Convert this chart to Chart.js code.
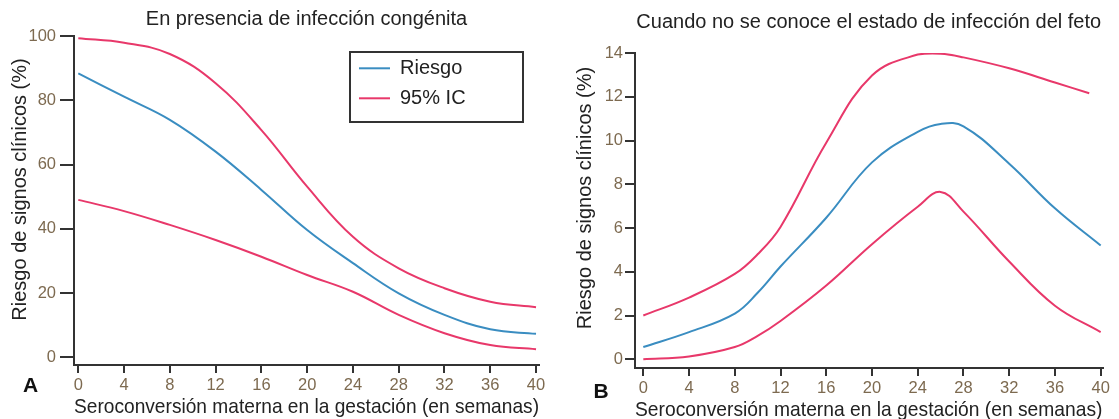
<!DOCTYPE html>
<html>
<head>
<meta charset="utf-8">
<script src="https://cdn.jsdelivr.net/npm/chart.js@4.4.1/dist/chart.umd.min.js"></script>
<style>
html, body { margin: 0; padding: 0; background: #ffffff; }
#wrap { position: relative; width: 1119px; height: 419px; overflow: hidden; background: #fff; }
#cA { position: absolute; left: 0; top: 0; }
#cB { position: absolute; left: 560px; top: 0; }
</style>
</head>
<body>
<div id="wrap">
  <canvas id="cA" width="560" height="440"></canvas>
  <canvas id="cB" width="559" height="440"></canvas>
</div>
<script>
// ---------- data ----------
const weekTicks = [0, 4, 8, 12, 16, 20, 24, 28, 32, 36, 40];

// Panel A: En presencia de infección congénita
const weeksA  = [0, 4, 8, 12, 16, 20, 24, 28, 32, 36, 40];
const riesgoA = [88.4, 81.1, 73.9, 64.0, 52.1, 39.6, 29.3, 19.9, 13.2, 8.7, 7.3];
const icSupA  = [99.3, 97.9, 94.4, 85.3, 70.7, 53.1, 37.5, 27.7, 21.5, 17.3, 15.6];
const icInfA  = [49.0, 45.5, 41.2, 36.5, 31.3, 25.6, 20.4, 13.2, 7.5, 3.8, 2.5];
const yTicksA = [0, 20, 40, 60, 80, 100];

// Panel B: Cuando no se conoce el estado de infección del feto
const weeksB    = [0, 4, 8, 10, 12, 16, 20, 24, 26, 28, 32, 36, 40];
const riesgoB   = [0.56, 1.24, 2.09, 3.04, 4.24, 6.47, 9.0, 10.4, 10.76, 10.65, 8.94, 6.9, 5.2];
const icInfB    = [0.0, 0.13, 0.56, 1.07, 1.75, 3.37, 5.26, 6.97, 7.65, 6.75, 4.47, 2.45, 1.24];
const weeksSupB = [0, 4, 8, 10, 12, 16, 20, 24, 26, 28, 32, 36, 39];
const icSupB    = [2.0, 2.82, 3.9, 4.8, 6.05, 9.9, 12.97, 13.93, 13.97, 13.8, 13.3, 12.65, 12.16];
const yTicksB   = [0, 2, 4, 6, 8, 10, 12, 14];

const titleA = 'En presencia de infección congénita';
const titleB = 'Cuando no se conoce el estado de infección del feto';
const xTitle = 'Seroconversión materna en la gestación (en semanas)';
const yTitle = 'Riesgo de signos clínicos (%)';
const labelRiesgo = 'Riesgo';
const labelIC = '95% IC';

// ---------- styles ----------
const FONT = "'Liberation Sans', Arial, Helvetica, sans-serif";
const BLUE = '#3a8dc1';
const PINK = '#e8386a';
const AXIS = '#333333';
const TICKCOL = '#7d6a50';
const TEXT = '#222222';

const pts = (xs, ys) => xs.map((x, i) => ({ x: x, y: ys[i] }));

function lineDs(label, xs, ys, color) {
  return {
    label: label,
    data: pts(xs, ys),
    borderColor: color,
    backgroundColor: color,
    borderWidth: 2,
    pointRadius: 0,
    fill: false,
    tension: 0.4,
    cubicInterpolationMode: 'default'
  };
}

function shiftTitle(dy) {
  return function (scale) {
    if (scale._titleShifted) return;
    scale._titleShifted = true;
    const orig = scale.drawTitle.bind(scale);
    scale.drawTitle = function () {
      const c = this.ctx;
      c.save();
      c.translate(0, dy);
      orig();
      c.restore();
    };
  };
}

// legend box plugin (reads labels and colours from the datasets)
const legendBox = {
  id: 'legendBox',
  afterDraw(chart, args, o) {
    if (!o || !o.display || !o.items) return;
    const ctx = chart.ctx;
    ctx.save();
    ctx.strokeStyle = AXIS;
    ctx.lineWidth = 2;
    ctx.strokeRect(o.x, o.y, o.w, o.h);
    ctx.font = o.fontSize + 'px ' + FONT;
    ctx.textBaseline = 'middle';
    ctx.textAlign = 'left';
    o.items.forEach((idx, i) => {
      const ds = chart.data.datasets[idx];
      const yy = o.y + o.first + i * o.gap;
      ctx.strokeStyle = ds.borderColor;
      ctx.lineWidth = ds.borderWidth;
      ctx.beginPath();
      ctx.moveTo(o.x + 9, yy);
      ctx.lineTo(o.x + 40, yy);
      ctx.stroke();
      ctx.fillStyle = TEXT;
      ctx.fillText(ds.label, o.x + 50, yy);
    });
    ctx.restore();
  }
};

// panel letter plugin
const panelLetter = {
  id: 'panelLetter',
  afterDraw(chart, args, o) {
    if (!o || !o.text) return;
    const ctx = chart.ctx;
    ctx.save();
    ctx.font = 'bold 21px ' + FONT;
    ctx.fillStyle = '#111';
    ctx.textAlign = 'center';
    ctx.textBaseline = 'alphabetic';
    ctx.fillText(o.text, o.x, o.y);
    ctx.restore();
  }
};

function makeOptions(cfg) {
  return {
    responsive: false,
    animation: false,
    devicePixelRatio: 1,
    layout: { padding: { left: 0, right: cfg.padRight, top: 0, bottom: 0 } },
    plugins: {
      legend: { display: false },
      tooltip: { enabled: false },
      title: {
        display: true,
        text: cfg.title,
        fullSize: false,
        color: TEXT,
        font: { family: FONT, size: 20, weight: 'normal', lineHeight: 1.2 },
        padding: { top: cfg.titleTop, bottom: cfg.titleBottom }
      },
      legendBox: cfg.legend,
      panelLetter: cfg.letter
    },
    scales: {
      x: {
        type: 'linear',
        min: cfg.xMin,
        max: cfg.xMax,
        afterBuildTicks: s => { s.ticks = weekTicks.map(v => ({ value: v })); },
        afterFit: s => { s.height = cfg.xHeight; },
        grid: { drawOnChartArea: false, drawTicks: true, tickLength: 8, color: AXIS, lineWidth: 2 },
        border: { display: true, color: AXIS, width: 2 },
        ticks: { color: TICKCOL, font: { family: FONT, size: 16.5 }, padding: 3, maxRotation: 0, autoSkip: false },
        title: {
          display: true, text: xTitle, color: TEXT,
          font: { family: FONT, size: 21, lineHeight: 1.2 },
          padding: { top: 0, bottom: cfg.xTitleBottom }
        }
      },
      y: {
        type: 'linear',
        min: cfg.yMin,
        max: cfg.yMax,
        afterBuildTicks: s => { s.ticks = cfg.yTicks.map(v => ({ value: v })); },
        afterFit: s => { s.width = cfg.yWidth; },
        afterUpdate: shiftTitle(cfg.yTitleShift),
        grid: { drawOnChartArea: false, drawTicks: true, tickLength: cfg.yTickLen, color: AXIS, lineWidth: 2 },
        border: { display: true, color: AXIS, width: 2 },
        ticks: { color: TICKCOL, font: { family: FONT, size: 16.5 }, padding: cfg.yTickPad, autoSkip: false },
        title: {
          display: true, text: yTitle, color: TEXT,
          font: { family: FONT, size: 20, lineHeight: 1.2 },
          padding: { top: cfg.yTitleTop, bottom: 0 }
        }
      }
    }
  };
}

new Chart(document.getElementById('cA'), {
  type: 'line',
  data: {
    datasets: [
      lineDs(labelRiesgo, weeksA, riesgoA, BLUE),
      lineDs(labelIC, weeksA, icSupA, PINK),
      lineDs(labelIC, weeksA, icInfA, PINK)
    ]
  },
  options: makeOptions({
    title: titleA, titleTop: 7.5, titleBottom: 4.5, padRight: 21,
    xMin: -0.376, xMax: 40.26, xHeight: 75, xTitleBottom: 20.5,
    yMin: -2.4, yMax: 100, yTicks: yTicksA, yWidth: 74, yTickLen: 14, yTickPad: 4,
    yTitleTop: 8, yTitleShift: -11,
    legend: { display: true, items: [0, 1], x: 350, y: 52, w: 173, h: 70, first: 16.3, gap: 30, fontSize: 20 },
    letter: { text: 'A', x: 30.5, y: 392 }
  }),
  plugins: [legendBox, panelLetter]
});

new Chart(document.getElementById('cB'), {
  type: 'line',
  data: {
    datasets: [
      lineDs(labelRiesgo, weeksB, riesgoB, BLUE),
      lineDs(labelIC, weeksSupB, icSupB, PINK),
      lineDs(labelIC, weeksB, icInfB, PINK)
    ]
  },
  options: makeOptions({
    title: titleB, titleTop: 10, titleBottom: 19, padRight: 16.5,
    xMin: -0.726, xMax: 40.16, xHeight: 72, xTitleBottom: 17.2,
    yMin: -0.398, yMax: 14, yTicks: yTicksB, yWidth: 75, yTickLen: 10, yTickPad: 2,
    yTitleTop: 13.6, yTitleShift: -12.5,
    legend: { display: false },
    letter: { text: 'B', x: 41, y: 398 }
  }),
  plugins: [legendBox, panelLetter]
});
</script>
</body>
</html>
